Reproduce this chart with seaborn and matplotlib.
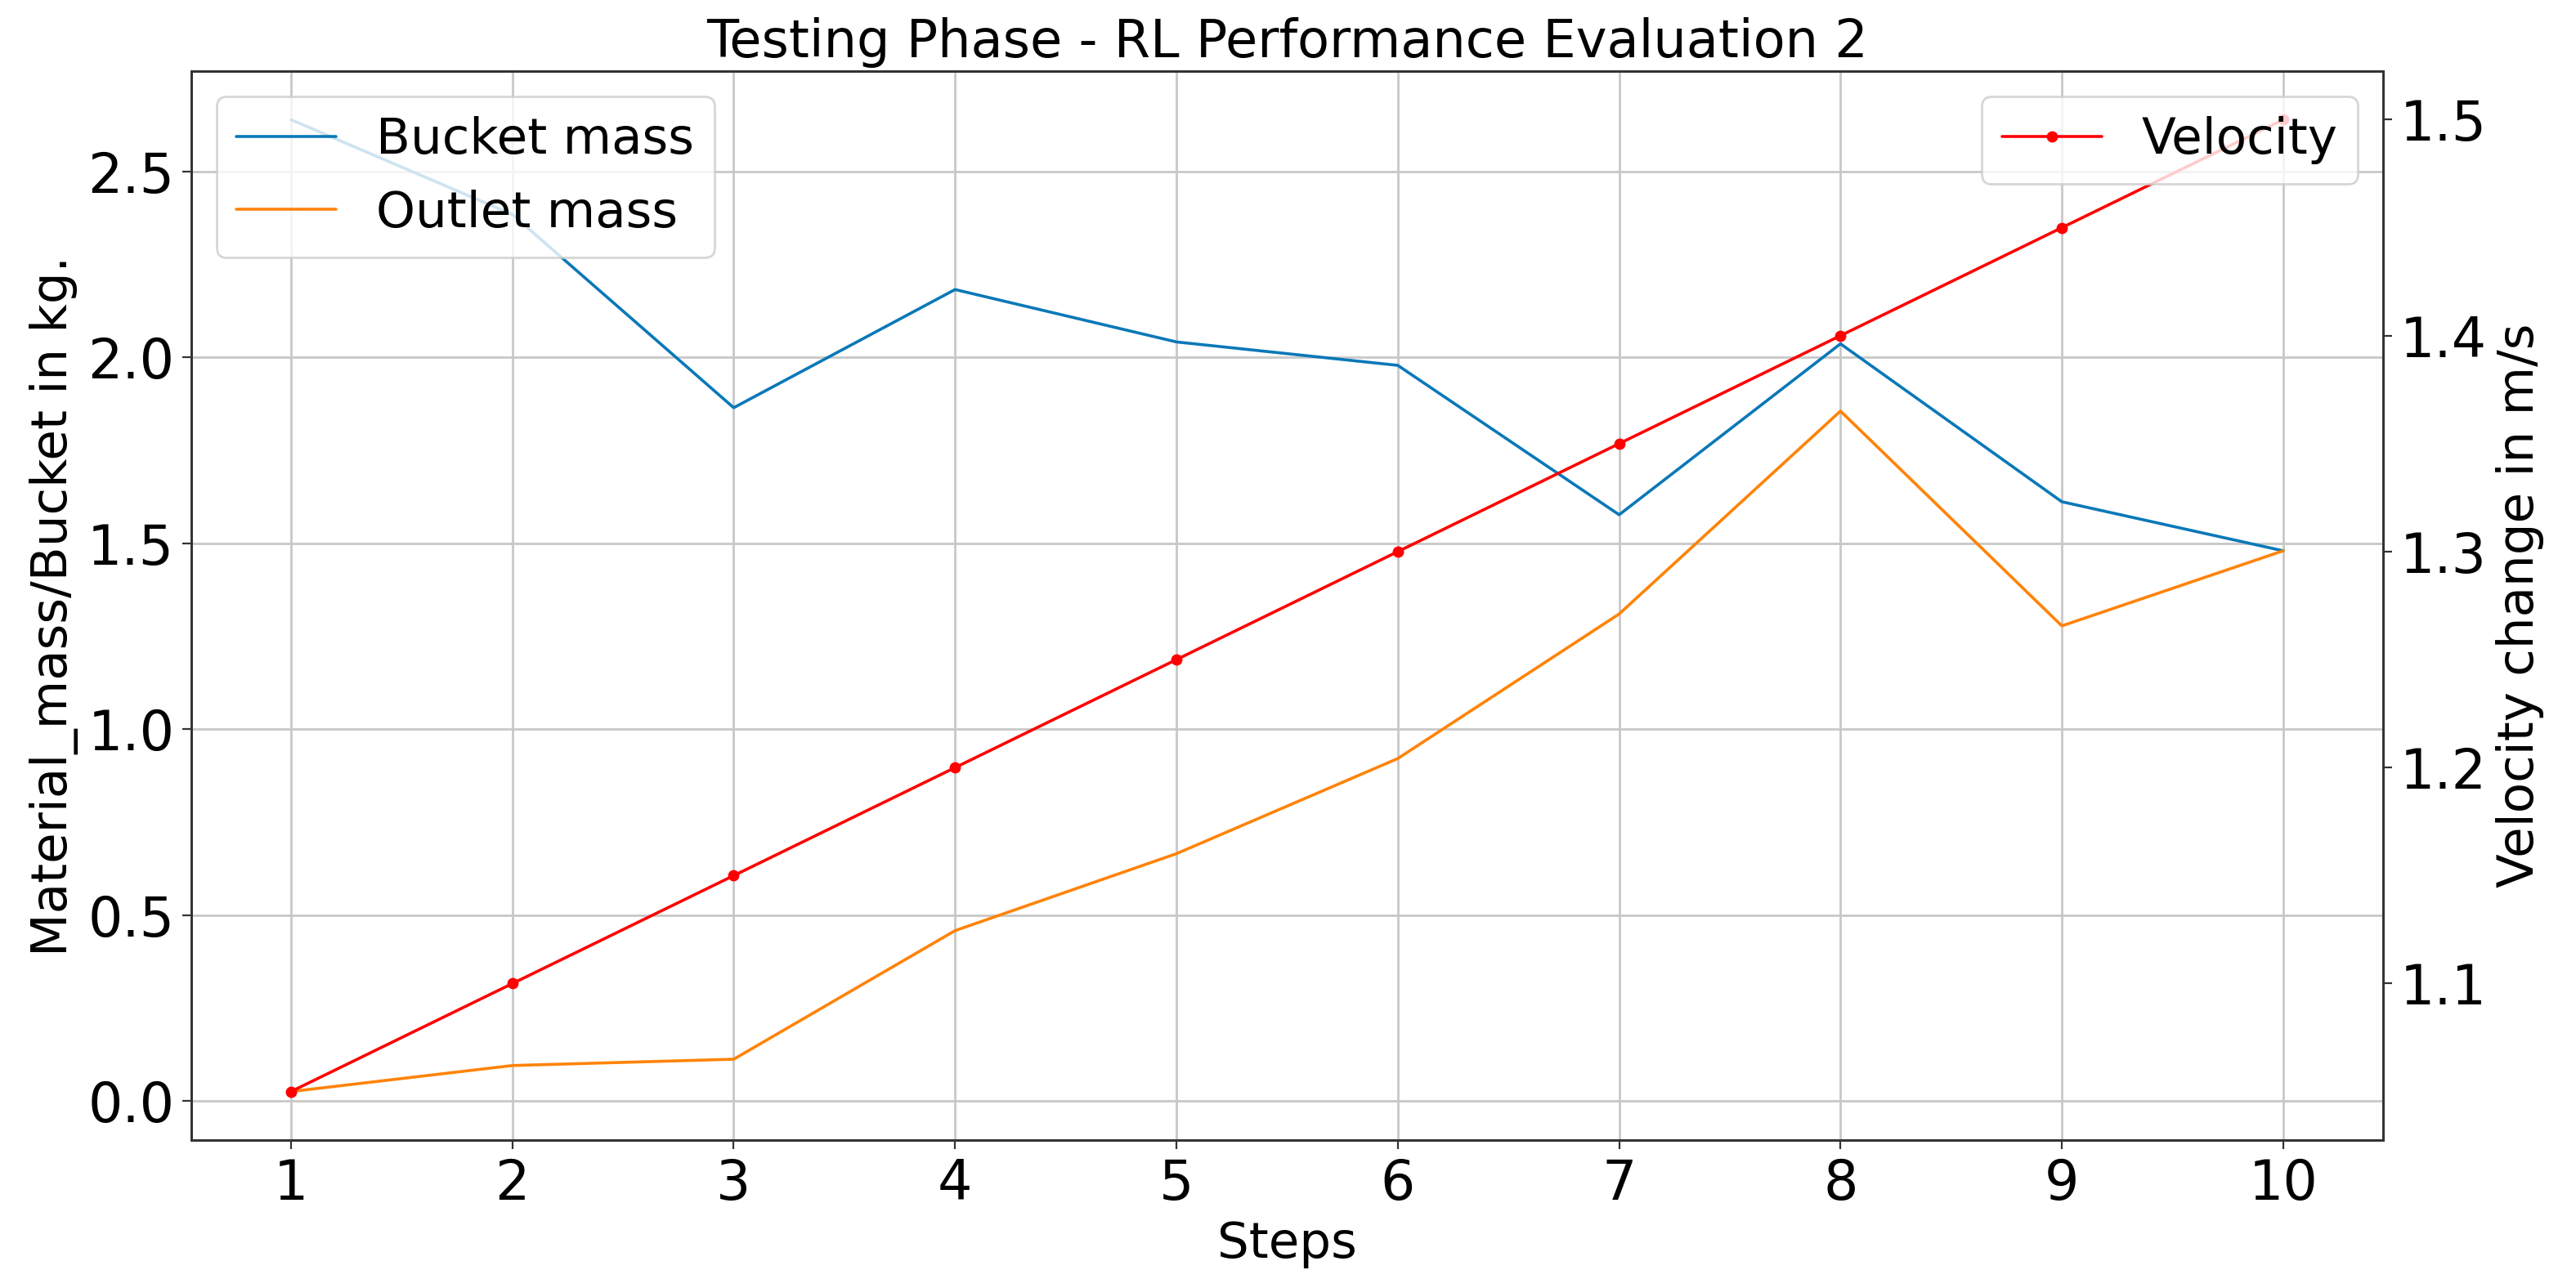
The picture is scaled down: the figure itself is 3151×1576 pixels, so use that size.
import matplotlib
matplotlib.use("Agg")
import matplotlib.pyplot as plt
import numpy as np
import pandas as pd
import seaborn as sns
from matplotlib.ticker import MultipleLocator

# values
steps = [1, 2, 3, 4, 5, 6, 7, 8, 9, 10]
bucket_mass = [2.64, 2.385, 1.865, 2.183, 2.042, 1.979, 1.577, 2.037, 1.612, 1.480]
outlet_mass = [0.025, 0.095, 0.112, 0.458, 0.665, 0.921, 1.310, 1.856, 1.278, 1.480]
velocity = [1.05, 1.10, 1.15, 1.20, 1.25, 1.30, 1.35, 1.40, 1.45, 1.50]

df = pd.DataFrame({'Steps': steps, 'Bucket mass': bucket_mass,
                   'Outlet mass': outlet_mass, 'Velocity': velocity})

sns.set_style("ticks")
plt.rcParams['font.family'] = ['DejaVu Sans']
plt.rcParams.update({'text.color': 'black', 'axes.labelcolor': 'black',
                     'xtick.color': 'black', 'ytick.color': 'black'})

fig, ax = plt.subplots(figsize=(15.755, 7.88), dpi=200)
fig.subplots_adjust(left=0.0743, right=0.925, top=0.9448, bottom=0.1148)

sns.lineplot(data=df, x='Steps', y='Bucket mass', ax=ax, color='#0a78b8',
             linewidth=1.3, label='Bucket mass')
sns.lineplot(data=df, x='Steps', y='Outlet mass', ax=ax, color='#ff8308',
             linewidth=1.3, label='Outlet mass')

ax2 = ax.twinx()
sns.lineplot(data=df, x='Steps', y='Velocity', ax=ax2, color='red', linewidth=1.3,
             marker='o', markersize=5, markeredgewidth=0, label='Velocity')

ax.set_xticks(steps)
ax.grid(True, color='#c8c8c8', linewidth=1.0)
ax2.grid(False)
ax2.yaxis.set_major_locator(MultipleLocator(0.1))
ax.yaxis.set_major_locator(MultipleLocator(0.5))

for a in (ax, ax2):
    for s in a.spines.values():
        s.set_color('#333333')
        s.set_linewidth(1.0)
    a.tick_params(labelsize=24, length=4, width=0.8, color='#333333', labelcolor='black')

ax.set_xlabel('Steps', fontsize=22)
ax.set_ylabel('Material_mass/Bucket in kg.', fontsize=22)
ax2.set_ylabel('Velocity change in m/s', fontsize=22)
ax.set_title('Testing Phase - RL Performance Evaluation 2', fontsize=23)

ax.legend(loc='upper left', fontsize=22)
ax2.legend(loc='upper right', fontsize=22)

plt.savefig('out.png', dpi=200)
